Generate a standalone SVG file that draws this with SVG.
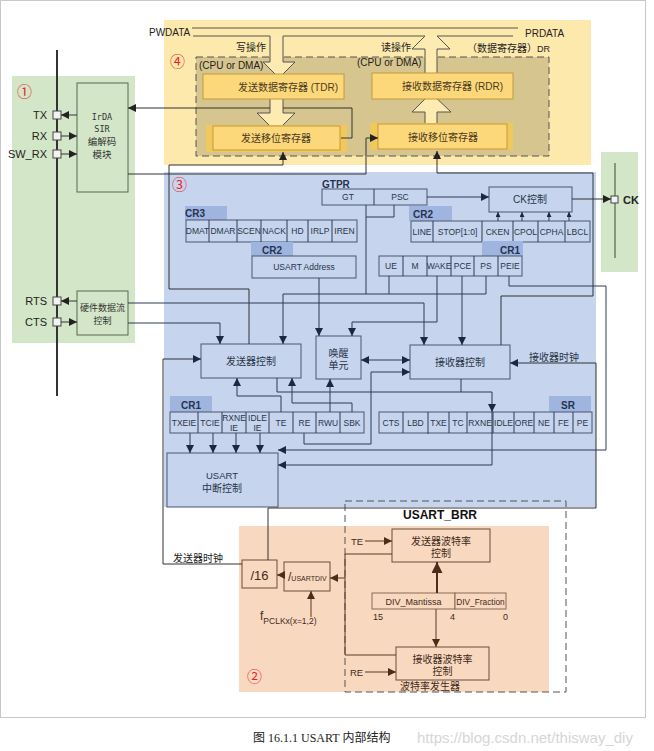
<svg xmlns="http://www.w3.org/2000/svg" width="654" height="751" viewBox="0 0 654 751">
<defs>
<marker id="k" viewBox="0 0 10 10" refX="10" refY="5" markerWidth="8" markerHeight="8" markerUnits="userSpaceOnUse" orient="auto-start-reverse"><path d="M0,0L10,5L0,10z" fill="#222"/></marker>
<marker id="n" viewBox="0 0 10 10" refX="10" refY="5" markerWidth="8" markerHeight="8" markerUnits="userSpaceOnUse" orient="auto-start-reverse"><path d="M0,0L10,5L0,10z" fill="#1c2842"/></marker>
<marker id="s" viewBox="0 0 10 10" refX="10" refY="5" markerWidth="5" markerHeight="5" markerUnits="userSpaceOnUse" orient="auto"><path d="M0,0L10,5L0,10z" fill="#1c2842"/></marker>
<marker id="b" viewBox="0 0 10 10" refX="10" refY="5" markerWidth="8" markerHeight="8" markerUnits="userSpaceOnUse" orient="auto"><path d="M0,0L10,5L0,10z" fill="#4a2e1a"/></marker>
<marker id="bb" viewBox="0 0 10 10" refX="10" refY="5" markerWidth="11" markerHeight="11" markerUnits="userSpaceOnUse" orient="auto"><path d="M0,0L10,5L0,10z" fill="#4a2e1a"/></marker>
</defs>
<style>
text{font-family:"Liberation Sans","Noto Sans CJK SC",sans-serif;}
.cj{font-family:"Noto Sans CJK SC",sans-serif;}
.bx{fill:#c6d4ee;stroke:#4a5670;stroke-width:1}
.hl{fill:#9fb5e0}
.lb{font-size:10px;font-weight:bold;fill:#26334f}
.tc{font-size:8.5px;fill:#2a3448;text-anchor:middle}
.tm{font-size:10px;fill:#2a3448;text-anchor:middle}
.ln{fill:none;stroke:#2e3b55;stroke-width:1}
.lk{fill:none;stroke:#333;stroke-width:1}
.lr{fill:none;stroke:#5a3a22;stroke-width:1}
.br{fill:none;stroke:#6b4c35;stroke-width:1}
.tr{font-size:10px;fill:#3e2a1a;text-anchor:middle}
.gold{fill:#fcd87a;stroke:#c29a3a;stroke-width:1}
.halo{fill:#f0c85c}
.ty{font-size:10px;fill:#4a3a20}
.tk{font-size:10px;fill:#222}
.num{font-size:15px;fill:#e8242a;font-family:"Noto Sans CJK SC",sans-serif}
.pin{fill:#f2f2f2;stroke:#444;stroke-width:1}
.gb{fill:none;stroke:#5a6650;stroke-width:1}
.ha{fill:#fdebb2}
.hs{fill:none;stroke:#555;stroke-width:1}
.gt{font-size:9.5px;fill:#333;text-anchor:middle}
.mono{font-family:"DejaVu Sans Mono",monospace;font-size:8.5px;fill:#333;text-anchor:middle}
</style>

<rect x="0.5" y="0.5" width="645" height="717" fill="#ffffff" stroke="#c8c8c8"/>

<!-- regions -->
<g id="region1"><rect x="12" y="76" width="123" height="267" fill="#d3e6c8"/><text class="num" x="17" y="97">①</text></g>
<g id="regionCK"><rect x="601" y="152" width="37" height="120" fill="#d3e6c8"/></g>
<g id="region4"><rect x="164" y="20" width="427" height="145" fill="#fde9ac"/><text class="num" x="170" y="67">④</text>
<rect x="196" y="57" width="353" height="99" fill="#d7c58f" stroke="#555" stroke-dasharray="7,4"/></g>
<g id="region3"><rect x="164" y="172" width="432" height="335" fill="#c6d4ee"/><text class="num" x="172" y="190">③</text></g>
<g id="region2"><rect x="239" y="526" width="310" height="166" fill="#f9d8c0"/><text class="num" x="247" y="682">②</text></g>
<g id="brr"><rect x="345" y="501" width="221" height="191" fill="none" stroke="#555" stroke-dasharray="7,4"/>
<text x="403" y="519" style="font-size:12px;font-weight:bold;fill:#111">USART_BRR</text></g>

<!-- pins and bus line -->
<g id="pinbus">
<path d="M57,50 V396" stroke="#333" stroke-width="2" fill="none"/>
<rect class="pin" x="53" y="111" width="8" height="8"/>
<rect class="pin" x="53" y="132" width="8" height="8"/>
<rect class="pin" x="53" y="150" width="8" height="8"/>
<rect class="pin" x="53" y="297" width="8" height="8"/>
<rect class="pin" x="53" y="318" width="8" height="8"/>
<text class="tk" x="47" y="119" text-anchor="end" style="font-size:11px">TX</text>
<text class="tk" x="47" y="140" text-anchor="end" style="font-size:11px">RX</text>
<text class="tk" x="47" y="158" text-anchor="end" style="font-size:11px">SW_RX</text>
<text class="tk" x="47" y="305" text-anchor="end" style="font-size:11px">RTS</text>
<text class="tk" x="47" y="326" text-anchor="end" style="font-size:11px">CTS</text>
</g>
<g id="ckpin">
<path d="M615,163 V258" stroke="#3a4a30" fill="none"/>
<rect class="pin" x="611" y="196" width="7" height="7"/>
<text x="623" y="204" style="font-size:11px;font-weight:bold;fill:#222">CK</text>
</g>

<!-- data bus and hollow arrows -->
<g id="databus">
<text class="tk" x="149" y="36">PWDATA</text>
<text class="tk" x="525" y="37">PRDATA</text>
<path class="hs" d="M192,28 H518 M193,36 H270 M283,36 H425 M437,36 H513"/>
<path class="ha" d="M270,36 V62 H263 L279,78 L295,62 H283 V36 Z"/>
<path class="hs" d="M270,36 V62 H263 L279,78 L295,62 H283 V36"/>
<path class="ha" d="M270,99 V113 H257 L276,132 L295,113 H283 V99 Z"/>
<path class="hs" d="M270,99 V113 H257 L276,132 L295,113 H283 V99"/>
<path class="ha" d="M425,124 V112 H412 L431,93 L451,112 H437 V124 Z"/>
<path class="hs" d="M425,124 V112 H412 L431,93 L451,112 H437 V124"/>
<path class="ha" d="M425,73 V49 H412 L425,36 H437 L450,49 H437 V73 Z"/>
<path class="hs" d="M425,73 V49 H412 L425,36 M437,36 L450,49 H437 V73"/>
<text class="tk" x="236" y="51">写操作</text>
<text class="tk" x="381" y="51">读操作</text>
<text class="tk" x="467" y="52">（数据寄存器）<tspan style="font-size:9px">DR</tspan></text>
<text class="tk" x="199" y="69">(CPU or DMA)</text>
<text class="tk" x="357" y="66">(CPU or DMA)</text>
</g>

<g id="tdr"><rect class="gold" x="203" y="74" width="141" height="25"/><text class="ty" x="238" y="91">发送数据寄存器 (TDR)</text></g>
<g id="rdr"><rect class="gold" x="372" y="73" width="141" height="26"/><text class="ty" x="402" y="90">接收数据寄存器 (RDR)</text></g>
<g id="txshift"><rect class="halo" x="206" y="125" width="141" height="27"/><rect class="gold" x="213" y="126" width="127" height="24"/><text class="ty" x="276" y="142" text-anchor="middle">发送移位寄存器</text></g>
<g id="rxshift"><rect class="halo" x="370" y="123" width="143" height="27"/><rect class="gold" x="378" y="124" width="129" height="25"/><text class="ty" x="443" y="141" text-anchor="middle">接收移位寄存器</text></g>

<g id="irda"><rect class="gb" x="77" y="83" width="51" height="109"/>
<text class="mono" x="102" y="120">IrDA</text>
<text class="mono" x="102" y="132">SIR</text>
<text class="gt" x="102" y="145">编解码</text>
<text class="gt" x="102" y="158">模块</text></g>
<g id="hwflow"><rect class="gb" x="77" y="291" width="51" height="44"/>
<text class="gt" x="102.5" y="311" style="font-size:9px">硬件数据流</text>
<text class="gt" x="102.5" y="324" style="font-size:9px">控制</text></g>

<!-- registers in region 3 -->
<g id="gtpr"><text class="lb" x="322" y="188">GTPR</text><rect class="bx" x="322" y="189" width="105" height="16"/><path class="ln" d="M374,189 V205"/>
<text class="tc" x="348" y="200">GT</text><text class="tc" x="400" y="200">PSC</text></g>
<g id="ckctrl"><rect class="bx" x="489" y="187" width="83" height="25"/><text class="tm" x="530" y="203">CK控制</text></g>
<g id="cr3"><rect class="hl" x="185" y="206" width="42" height="14"/><text class="lb" x="185" y="217">CR3</text>
<rect class="bx" x="186" y="220" width="171" height="22"/><path class="ln" d="M209,220V242M237,220V242M261,220V242M287,220V242M308,220V242M332,220V242"/>
<text class="tc" x="197.5" y="234">DMAT</text><text class="tc" x="223" y="234">DMAR</text><text class="tc" x="249" y="234">SCEN</text><text class="tc" x="274" y="234">NACK</text><text class="tc" x="297.5" y="234">HD</text><text class="tc" x="320" y="234">IRLP</text><text class="tc" x="344.5" y="234">IREN</text></g>
<g id="cr2addr"><rect class="hl" x="251" y="242" width="42" height="14"/><text class="lb" x="262" y="254">CR2</text>
<rect class="bx" x="252" y="256" width="104" height="22"/><text class="tc" x="304" y="270">USART Address</text></g>
<g id="cr2ck"><rect class="hl" x="409" y="206" width="43" height="15"/><text class="lb" x="413" y="218">CR2</text>
<rect class="bx" x="411" y="221" width="179" height="21"/><path class="ln" d="M433,221V242M482,221V242M513,221V242M538,221V242M565,221V242"/>
<text class="tc" x="422" y="235">LINE</text><text class="tc" x="457.5" y="235">STOP[1:0]</text><text class="tc" x="497.5" y="235">CKEN</text><text class="tc" x="525.5" y="235">CPOL</text><text class="tc" x="551.5" y="235">CPHA</text><text class="tc" x="577.5" y="235">LBCL</text></g>
<g id="cr1top"><rect class="hl" x="482" y="241" width="41" height="15"/><text class="lb" x="520" y="254" text-anchor="end">CR1</text>
<rect class="bx" x="379" y="256" width="143" height="20"/><path class="ln" d="M403,256V276M427,256V276M451,256V276M474,256V276M498,256V276"/>
<text class="tc" x="391" y="269">UE</text><text class="tc" x="415" y="269">M</text><text class="tc" x="439" y="269">WAKE</text><text class="tc" x="462.5" y="269">PCE</text><text class="tc" x="486" y="269">PS</text><text class="tc" x="510" y="269">PEIE</text></g>

<g id="txctrl"><rect class="bx" x="201" y="344" width="100" height="34"/><text class="tm" x="251" y="365">发送器控制</text></g>
<g id="wakeup"><rect class="bx" x="316" y="336" width="45" height="43"/><text class="tm" x="338.5" y="357">唤醒</text><text class="tm" x="338.5" y="369">单元</text></g>
<g id="rxctrl"><rect class="bx" x="410" y="345" width="100" height="34"/><text class="tm" x="460" y="366">接收器控制</text></g>
<g id="rxclk"><text class="tm" x="554" y="361">接收器时钟</text></g>

<g id="cr1low"><rect class="hl" x="170" y="396" width="42" height="16"/><text class="lb" x="181" y="409">CR1</text>
<rect class="bx" x="170" y="412" width="194" height="21"/><path class="ln" d="M198,412V433M222,412V433M246,412V433M269,412V433M293,412V433M316,412V433M340,412V433"/>
<text class="tc" x="184" y="426">TXEIE</text><text class="tc" x="210" y="426">TCIE</text>
<text class="tc" x="234" y="421">RXNE</text><text class="tc" x="234" y="431">IE</text>
<text class="tc" x="257.5" y="421">IDLE</text><text class="tc" x="257.5" y="431">IE</text>
<text class="tc" x="281" y="426">TE</text><text class="tc" x="304.5" y="426">RE</text><text class="tc" x="328" y="426">RWU</text><text class="tc" x="352" y="426">SBK</text></g>
<g id="sr"><rect class="hl" x="549" y="396" width="42" height="16"/><text class="lb" x="568" y="409" text-anchor="middle">SR</text>
<rect class="bx" x="379" y="412" width="213" height="21"/><path class="ln" d="M403,412V433M428,412V434M449,412V433M467,412V433M493,412V433M514,412V433M534,412V433M554,412V433M573,412V433"/>
<text class="tc" x="391" y="426">CTS</text><text class="tc" x="415.5" y="426">LBD</text><text class="tc" x="438.5" y="426">TXE</text><text class="tc" x="458" y="426">TC</text><text class="tc" x="480" y="426">RXNE</text><text class="tc" x="503.5" y="426">IDLE</text><text class="tc" x="524" y="426">ORE</text><text class="tc" x="544" y="426">NE</text><text class="tc" x="563.5" y="426">FE</text><text class="tc" x="582.5" y="426">PE</text></g>
<g id="intctrl"><rect class="bx" x="167" y="453" width="111" height="54"/><text class="tm" x="222" y="479" style="font-size:9.5px">USART</text><text class="tm" x="222" y="492">中断控制</text></g>

<!-- region 2 nodes -->
<g id="div16"><rect class="br" x="242" y="560" width="35" height="28"/><text x="259.5" y="580" text-anchor="middle" style="font-size:13px;fill:#3e2a1a">/16</text></g>
<g id="usartdiv"><rect class="br" x="284" y="562" width="46" height="29"/><text x="288" y="581" style="font-size:12px;fill:#3e2a1a">/<tspan style="font-size:7px">USARTDIV</tspan></text></g>
<g id="fpclk"><text x="260" y="620" style="font-size:12px;fill:#3e2a1a">f<tspan dy="4" style="font-size:8.5px">PCLKx(x=1,2)</tspan></text></g>
<g id="txbaud"><rect class="br" x="392" y="529" width="98" height="33"/><text class="tr" x="441" y="545">发送器波特率</text><text class="tr" x="441" y="557">控制</text></g>
<g id="rxbaud"><rect class="br" x="396" y="647" width="93" height="33"/><text class="tr" x="442.5" y="663">接收器波特率</text><text class="tr" x="442.5" y="675">控制</text></g>
<g id="divreg"><rect x="372" y="593" width="83" height="16" fill="#f9d8c0" stroke="#8a6a55"/><rect x="455" y="593" width="51" height="16" fill="#f9d8c0" stroke="#8a6a55"/>
<text x="413.5" y="605" text-anchor="middle" style="font-size:9px;fill:#3e2a1a">DIV_Mantissa</text>
<text x="480.5" y="605" text-anchor="middle" style="font-size:8.3px;fill:#3e2a1a">DIV_Fraction</text>
<text x="373" y="620" style="font-size:9px;fill:#3e2a1a">15</text><text x="450" y="620" style="font-size:9px;fill:#3e2a1a">4</text><text x="503" y="620" style="font-size:9px;fill:#3e2a1a">0</text></g>
<g id="labels2"><text x="351" y="545" style="font-size:9.5px;fill:#3e2a1a">TE</text><text x="350" y="676" style="font-size:9.5px;fill:#3e2a1a">RE</text>
<text x="400" y="690" style="font-size:10px;fill:#3e2a1a">波特率发生器</text>
<text x="173" y="562" style="font-size:10px;fill:#222">发送器时钟</text></g>

<!-- connectors -->
<g id="connectors">
<path class="lk" d="M77,115 H61" marker-end="url(#k)"/>
<path class="lk" d="M61,136 H77" marker-end="url(#k)"/>
<path class="lk" d="M61,154 H77" marker-end="url(#k)"/>
<path class="lk" d="M77,301 H61" marker-end="url(#k)"/>
<path class="lk" d="M61,322 H77" marker-end="url(#k)"/>
<path class="lk" d="M270,108 H128" marker-end="url(#k)"/>
<path class="lk" d="M283,108 H352 V138 H341"/>
<path class="lk" d="M128,174 H366 V138 H378" marker-end="url(#k)"/>
<path class="lk" d="M249,344 V289 H169 V165 H283 V152" marker-end="url(#k)"/>
<path class="lk" d="M501,345 V296 H593 V173 H437 V151" marker-end="url(#k)"/>
<path class="ln" d="M128,303 H424 V345" marker-end="url(#n)"/>
<path class="ln" d="M128,323 H220 V344" marker-end="url(#n)"/>
<path class="ln" d="M283,294 V344" marker-end="url(#n)"/>
<path class="ln" d="M283,294 H486 M366,205 V294 M394,205 V217 H366 M389,276 V294 M486,276 V294"/>
<path class="ln" d="M319,278 V336" marker-end="url(#n)"/>
<path class="ln" d="M437,276 V322 H352 V336" marker-end="url(#n)"/>
<path class="ln" d="M462,276 V345" marker-end="url(#n)"/>
<path class="ln" d="M427,197 H489" marker-end="url(#n)"/>
<path class="lk" d="M572,199 H611" marker-end="url(#k)"/>
<path class="ln" d="M498,221 V212" marker-end="url(#s)"/>
<path class="ln" d="M522,221 V212" marker-end="url(#s)"/>
<path class="ln" d="M549,221 V212" marker-end="url(#s)"/>
<path class="ln" d="M569,221 V212" marker-end="url(#s)"/>
<path class="ln" d="M509,276 V286 H606 V450 H278" marker-end="url(#n)"/>
<path class="ln" d="M277,378 V392 H492 V412" marker-end="url(#n)"/>
<path class="ln" d="M461,379 V392"/>
<path class="ln" d="M492,412 V465 H278" marker-end="url(#n)"/>
<path class="ln" d="M304,433 V444 H371 V372 H410" marker-end="url(#n)"/>
<path class="ln" d="M361,360 H410" marker-start="url(#n)" marker-end="url(#n)"/>
<path class="ln" d="M281,412 V396 H237 V378" marker-end="url(#n)"/>
<path class="ln" d="M352,412 V403 H292 V378" marker-end="url(#n)"/>
<path class="ln" d="M330,412 V379" marker-end="url(#n)"/>
<path class="ln" d="M190,433 V453" marker-end="url(#n)"/>
<path class="ln" d="M213,433 V453" marker-end="url(#n)"/>
<path class="ln" d="M236,433 V453" marker-end="url(#n)"/>
<path class="ln" d="M260,433 V453" marker-end="url(#n)"/>
<path class="lk" d="M242,564 H163 V359 H201" marker-end="url(#n)"/>
<path class="lk" d="M268,560 V508 H596 V363 H510" marker-end="url(#n)"/>
<path class="lr" d="M284,575 H277" marker-end="url(#b)"/>
<path class="lr" d="M345,578 H330" marker-end="url(#b)"/>
<path class="lr" d="M392,554 H345 V655 H396"/>
<path class="lr" d="M311,617 V591" marker-end="url(#b)"/>
<path class="lr" d="M365,541 H392" marker-end="url(#b)"/>
<path class="lr" d="M365,672 H396" marker-end="url(#b)"/>
<path d="M437,593 V562" fill="none" stroke="#4a2e1a" stroke-width="2" marker-end="url(#bb)"/>
<path class="lr" d="M436,609 V647" marker-end="url(#b)"/>
</g>

<g id="caption">
<text x="253" y="742" style="font-family:'Liberation Serif','Noto Sans CJK SC',serif;font-size:12px;fill:#222">图  16.1.1 USART 内部结构</text>
<text x="417" y="743" style="font-size:15px;fill:#d6d6d6">https://blog.csdn.net/thisway_diy</text>
</g>
</svg>
